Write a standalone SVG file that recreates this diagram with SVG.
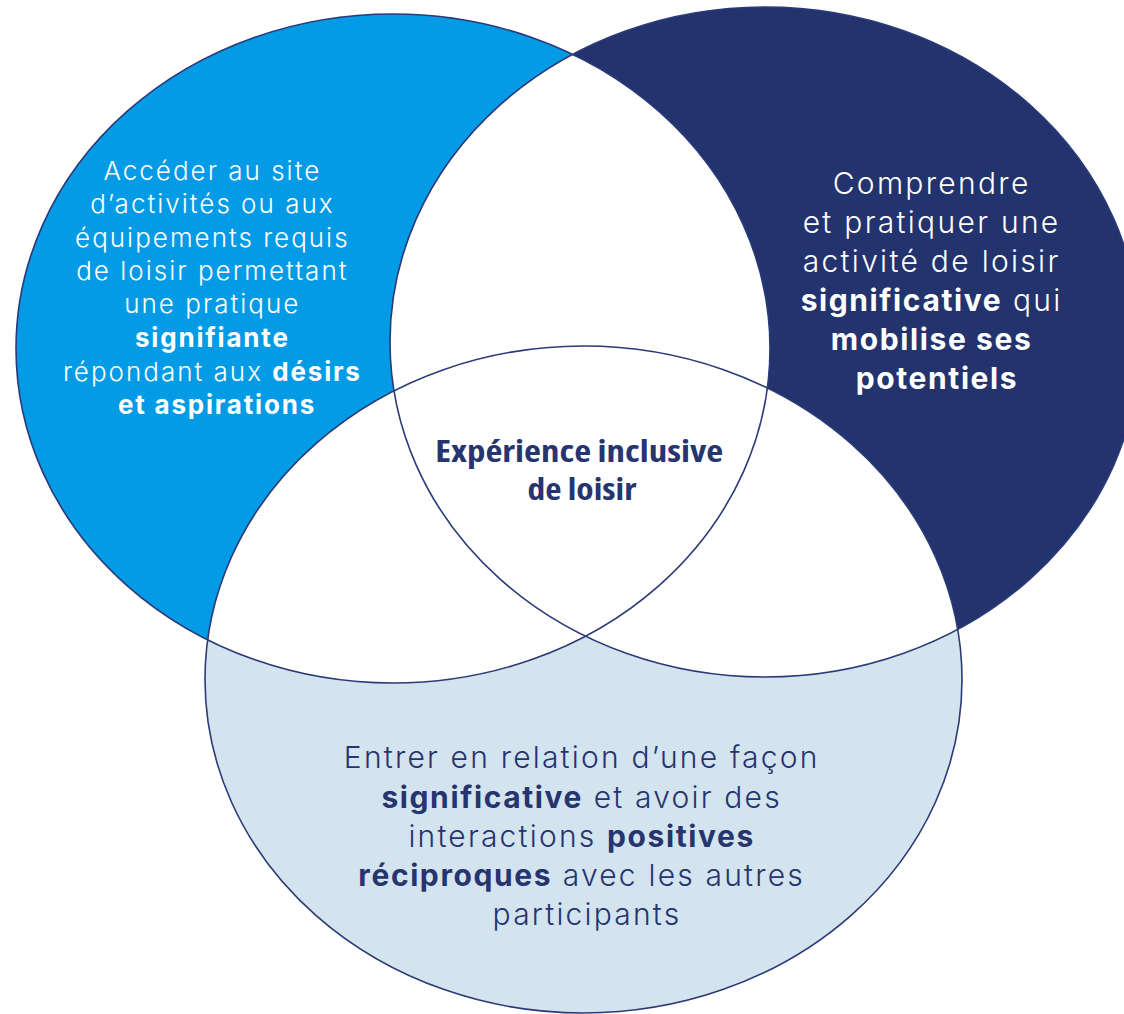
<svg xmlns="http://www.w3.org/2000/svg" width="1124" height="1014" viewBox="0 0 1124 1014">
<style>
.outline{fill:none;stroke:#2b3a78;stroke-width:1.6}
.t{font-family:Inter,"Open Sans","Liberation Sans",sans-serif;font-weight:300;text-anchor:middle}
.b{font-weight:700}
.w{fill:#ffffff}
.n{fill:#26346f}
.c{font-family:"Open Sans","Noto Sans","Liberation Sans",sans-serif;font-weight:700;font-stretch:condensed;text-anchor:middle;fill:#26346f}
</style>
<defs>
<ellipse id="eL" cx="393" cy="348.5" rx="377" ry="334.5"/>
<ellipse id="eR" cx="765" cy="342" rx="375" ry="335"/>
<ellipse id="eB" cx="583.5" cy="679.5" rx="378.5" ry="333.5"/>
<clipPath id="cL"><use href="#eL"/></clipPath>
<clipPath id="cR"><use href="#eR"/></clipPath>
</defs>
<rect width="1124" height="1014" fill="#ffffff"/>
<g id="fills">
<use href="#eL" fill="#039be5"/>
<use href="#eR" fill="#23336e"/>
<use href="#eB" fill="#d4e4ef"/>
<g clip-path="url(#cL)"><use href="#eR" fill="#ffffff"/><use href="#eB" fill="#ffffff"/></g>
<g clip-path="url(#cR)"><use href="#eB" fill="#ffffff"/></g>
</g>
<g id="node-left">
<use href="#eL" class="outline"/>
<text class="t w" font-size="26" letter-spacing="2">
<tspan x="217" y="180">Accéder au site</tspan>
<tspan x="217" y="213">d’activités ou aux</tspan>
<tspan x="217" y="247">équipements requis</tspan>
<tspan x="217" y="280">de loisir permettant</tspan>
<tspan x="217" y="313">une pratique</tspan>
<tspan x="217" y="347" class="b" letter-spacing="1.8">signifiante</tspan>
<tspan x="217" y="381">répondant aux <tspan class="b" letter-spacing="1.8">désirs</tspan></tspan>
<tspan x="217" y="414" class="b" letter-spacing="1.8">et aspirations</tspan>
</text>
</g>
<g id="node-right">
<use href="#eR" class="outline"/>
<text class="t w" font-size="30" letter-spacing="2.3">
<tspan x="937" y="194">Comprendre</tspan>
<tspan x="937" y="233">et pratiquer une</tspan>
<tspan x="937" y="272">activité de loisir</tspan>
<tspan x="937" y="311"><tspan class="b" letter-spacing="1.6">significative</tspan> qui</tspan>
<tspan x="937" y="350" class="b" letter-spacing="1.6">mobilise ses</tspan>
<tspan x="937" y="389" class="b" letter-spacing="1.6">potentiels</tspan>
</text>
</g>
<g id="node-bottom">
<use href="#eB" class="outline"/>
<text class="t n" font-size="30" letter-spacing="2.2">
<tspan x="587" y="768">Entrer en relation d’une façon</tspan>
<tspan x="587" y="808"><tspan class="b" letter-spacing="1.6">significative</tspan> et avoir des</tspan>
<tspan x="587" y="847">interactions <tspan class="b" letter-spacing="1.6">positives</tspan></tspan>
<tspan x="587" y="886"><tspan class="b" letter-spacing="1.6">réciproques</tspan> avec les autres</tspan>
<tspan x="587" y="925">participants</tspan>
</text>
</g>
<g id="node-center">
<text class="c" font-size="31">
<tspan x="582" y="462" textLength="288" lengthAdjust="spacingAndGlyphs">Expérience inclusive</tspan>
<tspan x="582" y="500" textLength="109" lengthAdjust="spacingAndGlyphs">de loisir</tspan>
</text>
</g>
</svg>
